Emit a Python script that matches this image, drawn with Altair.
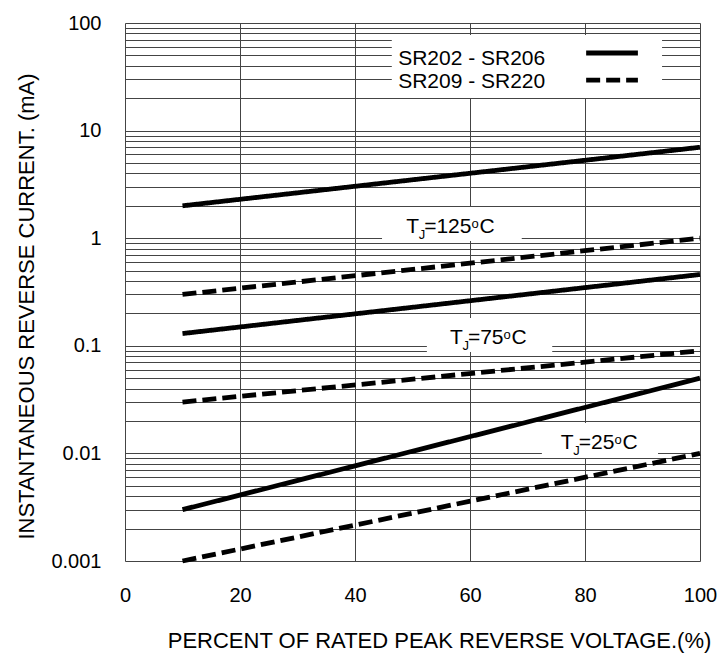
import altair as alt
import pandas as pd

FONT = "Liberation Sans"

# ---- data ----
x_pct = [10, 100]
series_names = ["SR202 - SR206", "SR209 - SR220"]
temps = ["125", "75", "25"]
solid_125 = [2.0, 7.0]
dashed_125 = [0.3, 1.0]
solid_75 = [0.13, 0.46]
dashed_75 = [0.03, 0.09]
solid_25 = [0.003, 0.05]
dashed_25 = [0.001, 0.01]

x_ticks = [0, 20, 40, 60, 80, 100]
y_decades = [0.001, 0.01, 0.1, 1, 10, 100]
y_grid = [m * d for d in y_decades[:-1] for m in range(1, 10)] + [100]

# annotation anchors (data coordinates)
legend_box = dict(x=46.4, x2=93.4, y=77.3, y2=20.1)
label_boxes = {
    "125": dict(x=44.7, x2=69.0, y=1.95, y2=0.942),
    "75": dict(x=52.5, x2=74.3, y=0.181, y2=0.0875),
    "25": dict(x=72.5, x2=92.7, y=0.0192, y2=0.00906),
}
label_anchor = {"125": (48.9, 1.117), "75": (56.5, 0.104), "25": (75.8, 0.0110)}
legend_text_y = [40.7, 24.9]
legend_text_x = 47.5
legend_sample_x = (80.2, 89.2)
legend_sample_y = [52.6, 29.5]

# ---- build tables ----
series_values = {
    ("125", series_names[0]): solid_125,
    ("125", series_names[1]): dashed_125,
    ("75", series_names[0]): solid_75,
    ("75", series_names[1]): dashed_75,
    ("25", series_names[0]): solid_25,
    ("25", series_names[1]): dashed_25,
}
rows = []
for (t, s), vals in series_values.items():
    for xv, yv in zip(x_pct, vals):
        rows.append({"x": xv, "y": yv, "series": s, "grp": t + s})
lines_df = pd.DataFrame(rows)

x_axis = alt.Axis(
    values=x_ticks, grid=True, gridColor="#444", gridWidth=1, ticks=False, tickSize=0,
    domain=False, labelFontSize=20, labelFont=FONT, labelColor="black", labelPadding=40,
    labelBaseline="alphabetic", labelFlush=False, labelOverlap=False,
    title="PERCENT OF RATED PEAK REVERSE VOLTAGE.(%)", titleFont=FONT, titleFontSize=22,
    titleFontWeight="normal", titleColor="black", titleX=314, titleY=86,
    titleBaseline="alphabetic", titleAlign="center",
)
y_axis = alt.Axis(
    values=y_grid, format="~g",
    labelExpr="indexof([0.001,0.01,0.1,1,10,100], datum.value) >= 0 ? datum.label : ''",
    grid=True, gridColor="#444", gridWidth=1, ticks=False, tickSize=0, domain=False,
    labelFontSize=20, labelFont=FONT, labelColor="black", labelPadding=24,
    labelBaseline="middle", labelFlush=False, labelOverlap=False,
    title="INSTANTANEOUS REVERSE CURRENT. (mA)", titleFont=FONT, titleFontSize=22,
    titleFontWeight="normal", titleColor="black", titleX=-92, titleY=283, titleAngle=270,
    titleBaseline="alphabetic", titleAlign="center",
)


def X(field="x"):
    return alt.X(f"{field}:Q", scale=alt.Scale(domain=[0, 100], nice=False, zero=False), axis=x_axis)


def Y(field="y"):
    return alt.Y(f"{field}:Q", scale=alt.Scale(type="log", domain=[0.001, 100], nice=False), axis=y_axis)


dash = alt.StrokeDash("series:N", scale=alt.Scale(domain=series_names, range=[[1, 0], [14, 6]]), legend=None)

layers = []

# white boxes behind labels and legend
box_rows = [legend_box] + [label_boxes[t] for t in temps]
boxes_df = pd.DataFrame(box_rows)
layers.append(
    alt.Chart(boxes_df).mark_rect(color="white").encode(
        x=X("x"), x2="x2:Q", y=Y("y"), y2="y2:Q"
    )
)

# data lines
layers.append(
    alt.Chart(lines_df).mark_line(strokeWidth=4.8, color="black", strokeCap="butt").encode(
        x=X(), y=Y(), detail="grp:N", strokeDash=dash
    )
)

# legend samples
leg_df = pd.DataFrame({
    "x": [legend_sample_x[0]] * 2, "x2": [legend_sample_x[1]] * 2,
    "y": legend_sample_y, "series": series_names,
})
layers.append(
    alt.Chart(leg_df).mark_rule(strokeWidth=4.8, color="black", strokeCap="butt").encode(
        x=X(), x2="x2:Q", y=Y(), strokeDash=dash
    )
)
legtxt_df = pd.DataFrame({"x": [legend_text_x] * 2, "y": legend_text_y, "t": series_names})
layers.append(
    alt.Chart(legtxt_df).mark_text(align="left", baseline="alphabetic", fontSize=21, font=FONT, color="black").encode(
        x=X(), y=Y(), text="t:N"
    )
)

# temperature labels  T_J=xx oC
for t in temps:
    ax, ay = label_anchor[t]
    eq = "=" + t
    eq_w = 0.584 * 21 + 0.556 * 21 * len(t)
    o_dx = 18 + eq_w
    parts = [
        ("T", 0, 0, 21),
        ("J", 12.5, 6, 13),
        (eq, 18, 0, 21),
        ("o", o_dx, -5, 13),
        ("C", o_dx + 8, 0, 21),
    ]
    df = pd.DataFrame({"x": [ax], "y": [ay]})
    for txt, dx, dy, fs in parts:
        layers.append(
            alt.Chart(df).mark_text(
                align="left", baseline="alphabetic", dx=dx, dy=dy, fontSize=fs, font=FONT,
                color="black", text=txt,
            ).encode(x=X(), y=Y())
        )

chart = alt.layer(*layers).properties(
    width=575, height=538,
    autosize=alt.AutoSizeParams(type="none"),
    padding={"left": 117, "top": 15, "right": 19, "bottom": 100},
).configure_view(stroke="black", strokeWidth=1.2).configure(background="white")

chart.save("out.html", embed_options={"renderer": "svg", "actions": False})
